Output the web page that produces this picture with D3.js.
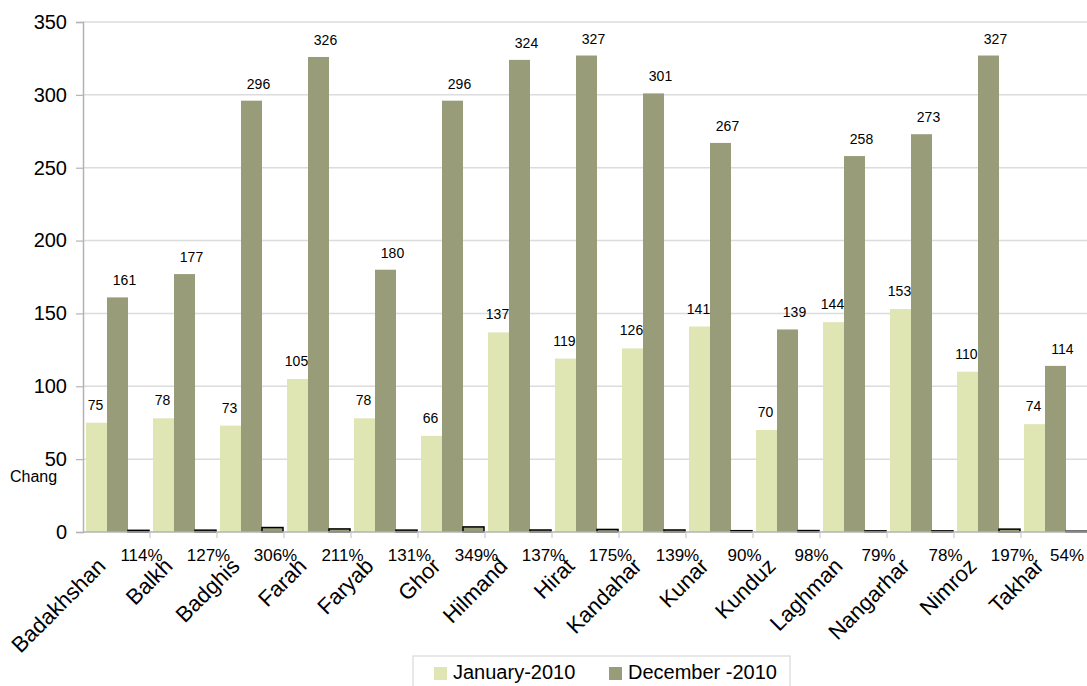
<!DOCTYPE html>
<html>
<head>
<meta charset="utf-8">
<script src="https://cdn.jsdelivr.net/npm/d3@7"></script>
<style>
    body { margin: 0; background: #ffffff; }
    svg { display: block; font-family: 'Liberation Sans', Arial, sans-serif; }
</style>
</head>
<body>
<div id="chart"></div>
<script>
'use strict';

var provinces = ['Badakhshan', 'Balkh', 'Badghis', 'Farah', 'Faryab', 'Ghor', 'Hilmand', 'Hirat',
    'Kandahar', 'Kunar', 'Kunduz', 'Laghman', 'Nangarhar', 'Nimroz', 'Takhar'];
var january2010 = [75, 78, 73, 105, 78, 66, 137, 119, 126, 141, 70, 144, 153, 110, 74];
var december2010 = [161, 177, 296, 326, 180, 296, 324, 327, 301, 267, 139, 258, 273, 327, 114];
var change = [1.14, 1.27, 3.06, 2.11, 1.31, 3.49, 1.37, 1.75, 1.39, 0.90, 0.98, 0.79, 0.78, 1.97, 0.54];
var yTicks = [0, 50, 100, 150, 200, 250, 300, 350];
var seriesNames = ['January-2010', 'December -2010'];

var width = 1087,
    height = 686;

var colors = {
    jan: '#dfe5b3',
    dec: '#989c78',
    grid: '#dcdcdc',
    axis: '#b3b3b3'
};

var svg = d3.select('#chart').append('svg')
    .attr('width', width)
    .attr('height', height);

var x = d3.scaleBand()
    .domain(provinces)
    .range([83, 1088]);

var xSub = d3.scaleBand()
    .domain(['jan', 'dec', 'chg'])
    .range([0, x.bandwidth()])
    .paddingOuter(0.095)
    .align(0.75);

var y = d3.scaleLinear()
    .domain([0, 350])
    .range([532, 22]);

// grid
svg.append('g')
    .selectAll('line')
    .data(yTicks.filter(function(d) { return d > 0; }))
    .join('line')
        .attr('x1', 83)
        .attr('x2', width)
        .attr('y1', function(d) { return y(d); })
        .attr('y2', function(d) { return y(d); })
        .attr('stroke', colors.grid)
        .attr('stroke-width', 1.5);

// y axis
var yAxis = svg.append('g')
    .attr('transform', 'translate(83,0)')
    .call(d3.axisLeft(y).tickValues(yTicks).tickSize(7).tickPadding(9));
yAxis.select('.domain').attr('stroke', colors.axis).attr('stroke-width', 1.5);
yAxis.selectAll('.tick line').attr('stroke', colors.axis).attr('stroke-width', 1.2);
yAxis.selectAll('.tick text')
    .attr('font-size', '20px')
    .attr('font-family', "'Liberation Sans', Arial, sans-serif")
    .attr('fill', '#000');

// bars
var groups = svg.append('g')
    .selectAll('g')
    .data(provinces)
    .join('g')
        .attr('transform', function(d) { return 'translate(' + x(d) + ',0)'; });

groups.append('rect')
    .attr('x', xSub('jan'))
    .attr('width', xSub.bandwidth())
    .attr('y', function(d, i) { return y(january2010[i]); })
    .attr('height', function(d, i) { return y(0) - y(january2010[i]); })
    .attr('fill', colors.jan);

groups.append('rect')
    .attr('x', xSub('dec'))
    .attr('width', xSub.bandwidth())
    .attr('y', function(d, i) { return y(december2010[i]); })
    .attr('height', function(d, i) { return y(0) - y(december2010[i]); })
    .attr('fill', colors.dec);

groups.append('rect')
    .attr('x', xSub('chg'))
    .attr('width', xSub.bandwidth())
    .attr('y', function(d, i) { return y(change[i]); })
    .attr('height', function(d, i) { return y(0) - y(change[i]); })
    .attr('fill', colors.dec)
    .attr('stroke', '#000')
    .attr('stroke-width', 1.5);

// value labels
groups.append('text')
    .attr('x', xSub('jan') + xSub.bandwidth() / 2 - 1)
    .attr('y', function(d, i) { return y(january2010[i]) - 13; })
    .attr('text-anchor', 'middle')
    .attr('font-size', '14px')
    .text(function(d, i) { return january2010[i]; });

groups.append('text')
    .attr('x', xSub('dec') + xSub.bandwidth() / 2 + 7)
    .attr('y', function(d, i) { return y(december2010[i]) - 12; })
    .attr('text-anchor', 'middle')
    .attr('font-size', '14px')
    .text(function(d, i) { return december2010[i]; });

groups.append('text')
    .attr('x', function(d) {
        var cx = x(d) + xSub('chg') + xSub.bandwidth() / 2 + 3;
        return Math.min(cx, width - 20) - x(d);
    })
    .attr('y', 561)
    .attr('text-anchor', 'middle')
    .attr('font-size', '17px')
    .text(function(d, i) { return Math.round(change[i] * 100) + '%'; });

// x axis
svg.append('line')
    .attr('x1', 83)
    .attr('x2', width)
    .attr('y1', y(0))
    .attr('y2', y(0))
    .attr('stroke', colors.axis)
    .attr('stroke-width', 1.5);

svg.append('g')
    .selectAll('line')
    .data(provinces.slice(1))
    .join('line')
        .attr('x1', function(d) { return x(d); })
        .attr('x2', function(d) { return x(d); })
        .attr('y1', y(0))
        .attr('y2', y(0) + 6)
        .attr('stroke', '#cccccc')
        .attr('stroke-width', 1.2);

svg.append('g')
    .selectAll('text')
    .data(provinces)
    .join('text')
        .attr('transform', function(d) {
            return 'translate(' + (x(d) + x.bandwidth() / 2 - 15) + ',562) rotate(-45)';
        })
        .attr('dy', '0.35em')
        .attr('text-anchor', 'end')
        .attr('font-size', '22px')
        .text(function(d) { return d; });

// truncated series title
svg.append('text')
    .attr('x', 10)
    .attr('y', 482)
    .attr('font-size', '16px')
    .text('Chang');

// legend
var legend = svg.append('g');
legend.append('rect')
    .attr('x', 413)
    .attr('y', 656)
    .attr('width', 377)
    .attr('height', 40)
    .attr('fill', '#fff')
    .attr('stroke', '#d9d9d9')
    .attr('stroke-width', 1.2);

var legendItems = legend.selectAll('g.item')
    .data(seriesNames)
    .join('g')
        .attr('class', 'item')
        .attr('transform', function(d, i) { return 'translate(' + (434 + i * 175) + ',667)'; });

legendItems.append('rect')
    .attr('width', 13)
    .attr('height', 13)
    .attr('fill', function(d, i) { return i === 0 ? colors.jan : colors.dec; });

legendItems.append('text')
    .attr('x', 19)
    .attr('y', 12)
    .attr('font-size', '20px')
    .text(function(d) { return d; });
</script>
</body>
</html>
